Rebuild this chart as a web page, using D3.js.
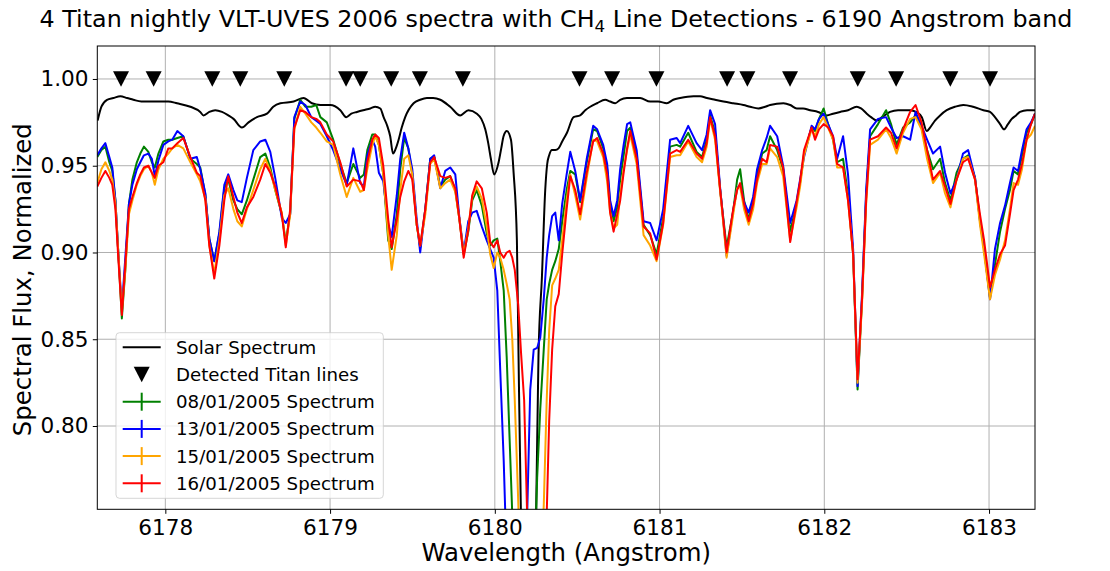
<!DOCTYPE html>
<html>
<head>
<meta charset="utf-8">
<script src="https://cdn.jsdelivr.net/npm/d3@7"></script>
<style>
  body { margin: 0; background: #ffffff; }
  text { font-family: "DejaVu Sans", sans-serif; fill: #000; }
</style>
</head>
<body>
<svg id="chart" width="1110" height="571"></svg>
<script>
// Wavelength grid (Angstrom) shared by the four Titan spectra
const titanWave = [
  6177.587,6177.612,6177.636,6177.660,6177.678,6177.697,6177.715,6177.736,6177.757,6177.779,
  6177.800,6177.827,6177.848,6177.870,6177.897,6177.918,6177.936,6177.958,6177.988,6178.018,
  6178.042,6178.073,6178.109,6178.152,6178.191,6178.212,6178.243,6178.267,6178.297,6178.328,
  6178.358,6178.382,6178.413,6178.437,6178.464,6178.495,6178.534,6178.576,6178.607,6178.637,
  6178.667,6178.707,6178.731,6178.758,6178.783,6178.819,6178.850,6178.886,6178.916,6178.941,
  6178.980,6179.019,6179.062,6179.101,6179.141,6179.183,6179.205,6179.226,6179.256,6179.274,
  6179.296,6179.323,6179.353,6179.374,6179.405,6179.426,6179.450,6179.475,6179.499,6179.526,
  6179.547,6179.578,6179.608,6179.632,6179.669,6179.699,6179.729,6179.760,6179.784,6179.811,
  6179.839,6179.863,6179.890,6179.921,6179.951,6179.972,6179.993,6180.015,6180.033,6180.054,
  6180.072,6180.090,6180.106,6180.121,6180.142,6180.160,6180.178,6180.197,6180.215,6180.236,
  6180.257,6180.276,6180.297,6180.315,6180.330,6180.348,6180.367,6180.388,6180.409,6180.436,
  6180.458,6180.488,6180.518,6180.558,6180.597,6180.621,6180.658,6180.682,6180.700,6180.721,
  6180.743,6180.761,6180.782,6180.803,6180.822,6180.861,6180.903,6180.943,6180.982,6181.022,
  6181.064,6181.104,6181.125,6181.174,6181.225,6181.258,6181.286,6181.307,6181.337,6181.368,
  6181.407,6181.447,6181.471,6181.489,6181.513,6181.541,6181.568,6181.592,6181.623,6181.650,
  6181.671,6181.714,6181.750,6181.793,6181.832,6181.853,6181.877,6181.923,6181.944,6181.968,
  6181.996,6182.023,6182.053,6182.078,6182.114,6182.144,6182.175,6182.202,6182.229,6182.254,
  6182.278,6182.326,6182.375,6182.405,6182.439,6182.478,6182.521,6182.554,6182.590,6182.624,
  6182.660,6182.703,6182.733,6182.766,6182.803,6182.842,6182.873,6182.915,6182.945,6182.970,
  6183.006,6183.036,6183.067,6183.097,6183.127,6183.149,6183.176,6183.200,6183.228,6183.255,
  6183.279
];

// Normalized flux, 08/01/2005
const flux0801 = [
  0.955,0.959,0.961,0.952,0.947,0.930,0.899,0.862,0.890,0.928,
  0.942,0.952,0.957,0.961,0.958,0.952,0.949,0.957,0.964,0.965,
  0.965,0.966,0.967,0.954,0.951,0.949,0.933,0.908,0.895,0.911,
  0.937,0.942,0.930,0.925,0.922,0.930,0.942,0.955,0.957,0.949,
  0.936,0.922,0.906,0.923,0.977,0.988,0.984,0.984,0.985,0.978,
  0.975,0.965,0.951,0.940,0.951,0.943,0.945,0.959,0.968,0.968,
  0.962,0.945,0.907,0.902,0.922,0.948,0.966,0.960,0.945,0.916,
  0.903,0.925,0.954,0.955,0.938,0.942,0.944,0.936,0.920,0.899,
  0.912,0.930,0.936,0.927,0.911,0.904,0.907,0.908,0.895,0.878,
  0.840,0.792,0.749,0.700,0.642,0.613,0.607,0.619,0.653,0.700,
  0.770,0.810,0.844,0.873,0.882,0.890,0.895,0.902,0.918,0.936,
  0.947,0.945,0.929,0.952,0.971,0.970,0.960,0.948,0.928,0.918,
  0.926,0.942,0.956,0.970,0.972,0.956,0.916,0.910,0.899,0.920,
  0.961,0.962,0.961,0.969,0.958,0.955,0.965,0.979,0.969,0.936,
  0.903,0.924,0.942,0.948,0.930,0.919,0.930,0.945,0.957,0.959,
  0.967,0.959,0.948,0.912,0.928,0.940,0.957,0.972,0.970,0.977,
  0.983,0.974,0.965,0.952,0.954,0.933,0.899,0.821,0.873,0.933,
  0.967,0.974,0.982,0.974,0.962,0.972,0.975,0.979,0.972,0.959,
  0.948,0.954,0.940,0.930,0.946,0.954,0.956,0.943,0.919,0.902,
  0.874,0.893,0.912,0.925,0.936,0.947,0.945,0.956,0.969,0.974,
  0.980
];

// Normalized flux, 13/01/2005
const flux1301 = [
  0.956,0.960,0.963,0.955,0.949,0.930,0.899,0.868,0.897,0.928,
  0.939,0.948,0.952,0.956,0.957,0.954,0.944,0.953,0.962,0.964,
  0.965,0.970,0.967,0.954,0.955,0.948,0.934,0.908,0.895,0.912,
  0.939,0.945,0.936,0.930,0.929,0.943,0.959,0.964,0.965,0.958,
  0.943,0.920,0.917,0.922,0.978,0.987,0.985,0.978,0.976,0.974,
  0.967,0.959,0.948,0.939,0.960,0.940,0.938,0.956,0.965,0.961,
  0.946,0.941,0.916,0.909,0.933,0.954,0.969,0.960,0.948,0.919,
  0.900,0.925,0.954,0.956,0.937,0.947,0.949,0.945,0.921,0.900,
  0.918,0.923,0.924,0.915,0.907,0.902,0.897,0.878,0.832,0.780,
  0.723,0.671,0.630,0.596,0.584,0.596,0.642,0.751,0.821,0.844,
  0.845,0.851,0.873,0.897,0.910,0.921,0.923,0.907,0.928,0.945,
  0.958,0.947,0.930,0.954,0.973,0.971,0.962,0.951,0.930,0.921,
  0.930,0.948,0.962,0.974,0.975,0.959,0.918,0.917,0.907,0.925,
  0.965,0.966,0.963,0.973,0.963,0.959,0.968,0.982,0.974,0.937,
  0.898,0.924,0.937,0.939,0.929,0.923,0.932,0.948,0.959,0.966,
  0.973,0.967,0.950,0.917,0.930,0.942,0.955,0.973,0.971,0.977,
  0.980,0.974,0.967,0.954,0.967,0.945,0.902,0.823,0.876,0.936,
  0.971,0.977,0.978,0.972,0.966,0.967,0.965,0.981,0.973,0.965,
  0.957,0.961,0.946,0.934,0.942,0.957,0.959,0.943,0.918,0.902,
  0.873,0.902,0.917,0.927,0.940,0.949,0.947,0.959,0.971,0.975,
  0.980
];

// Normalized flux, 15/01/2005
const flux1501 = [
  0.940,0.948,0.952,0.947,0.942,0.928,0.899,0.866,0.890,0.922,
  0.930,0.939,0.944,0.948,0.950,0.946,0.939,0.948,0.954,0.957,
  0.960,0.962,0.960,0.952,0.945,0.941,0.931,0.904,0.888,0.907,
  0.933,0.937,0.925,0.918,0.915,0.925,0.936,0.948,0.954,0.947,
  0.936,0.923,0.904,0.922,0.971,0.984,0.980,0.975,0.972,0.969,
  0.964,0.962,0.945,0.932,0.943,0.935,0.936,0.948,0.962,0.967,
  0.962,0.945,0.910,0.890,0.910,0.936,0.954,0.956,0.945,0.916,
  0.904,0.922,0.951,0.954,0.937,0.940,0.942,0.935,0.920,0.899,
  0.914,0.932,0.938,0.931,0.915,0.899,0.891,0.900,0.897,0.890,
  0.882,0.873,0.850,0.815,0.757,0.700,0.642,0.619,0.607,0.630,
  0.688,0.711,0.754,0.815,0.855,0.881,0.885,0.890,0.907,0.930,
  0.945,0.933,0.919,0.943,0.965,0.964,0.955,0.941,0.923,0.914,
  0.916,0.933,0.948,0.959,0.968,0.951,0.910,0.904,0.895,0.916,
  0.955,0.956,0.956,0.964,0.955,0.952,0.961,0.977,0.965,0.935,
  0.897,0.922,0.937,0.938,0.925,0.916,0.925,0.940,0.951,0.951,
  0.960,0.955,0.944,0.907,0.926,0.938,0.956,0.971,0.967,0.974,
  0.978,0.972,0.965,0.949,0.949,0.930,0.899,0.825,0.870,0.928,
  0.962,0.965,0.971,0.966,0.957,0.969,0.977,0.978,0.971,0.954,
  0.940,0.946,0.934,0.926,0.942,0.954,0.955,0.942,0.916,0.899,
  0.873,0.887,0.896,0.907,0.925,0.940,0.939,0.948,0.965,0.968,
  0.973
];

// Normalized flux, 16/01/2005
const flux1601 = [
  0.938,0.943,0.947,0.943,0.939,0.925,0.896,0.864,0.893,0.925,
  0.932,0.940,0.945,0.949,0.950,0.946,0.943,0.950,0.952,0.960,
  0.960,0.963,0.966,0.955,0.946,0.944,0.930,0.904,0.885,0.904,
  0.930,0.944,0.932,0.923,0.917,0.926,0.932,0.942,0.951,0.946,
  0.938,0.922,0.903,0.925,0.972,0.982,0.981,0.978,0.977,0.975,
  0.968,0.964,0.952,0.938,0.942,0.941,0.936,0.952,0.965,0.968,
  0.966,0.950,0.919,0.903,0.919,0.932,0.941,0.947,0.942,0.916,
  0.904,0.925,0.952,0.955,0.944,0.943,0.944,0.937,0.920,0.897,
  0.913,0.933,0.941,0.937,0.923,0.906,0.903,0.907,0.900,0.897,
  0.900,0.901,0.897,0.890,0.870,0.841,0.815,0.746,0.671,0.619,
  0.596,0.607,0.700,0.749,0.803,0.844,0.869,0.876,0.899,0.925,
  0.944,0.936,0.922,0.946,0.964,0.966,0.957,0.945,0.923,0.912,
  0.922,0.930,0.946,0.960,0.970,0.954,0.915,0.911,0.896,0.917,
  0.957,0.959,0.958,0.965,0.957,0.954,0.963,0.978,0.967,0.936,
  0.900,0.925,0.936,0.940,0.928,0.918,0.928,0.942,0.954,0.952,
  0.962,0.961,0.949,0.906,0.929,0.941,0.959,0.972,0.965,0.971,
  0.974,0.972,0.967,0.951,0.949,0.930,0.899,0.827,0.873,0.930,
  0.965,0.967,0.972,0.969,0.960,0.971,0.981,0.985,0.975,0.959,
  0.942,0.947,0.938,0.928,0.942,0.952,0.954,0.942,0.922,0.907,
  0.880,0.890,0.899,0.904,0.922,0.936,0.942,0.951,0.965,0.974,
  0.980
];

// Solar reference spectrum
const solarWave = [
  6177.589,6177.612,6177.646,6177.684,6177.727,6177.768,6177.806,6177.854,6177.909,6177.980,
  6178.018,6178.071,6178.152,6178.212,6178.232,6178.267,6178.303,6178.344,6178.382,6178.414,
  6178.465,6178.505,6178.556,6178.617,6178.655,6178.698,6178.779,6178.839,6178.890,6178.941,
  6179.001,6179.062,6179.098,6179.129,6179.163,6179.201,6179.244,6179.274,6179.305,6179.325,
  6179.347,6179.365,6179.382,6179.399,6179.416,6179.435,6179.456,6179.507,6179.547,6179.588,
  6179.626,6179.669,6179.729,6179.790,6179.840,6179.891,6179.918,6179.942,6179.960,6179.976,
  6179.996,6180.023,6180.039,6180.053,6180.073,6180.098,6180.114,6180.134,6180.144,6180.158,
  6180.178,6180.205,6180.227,6180.251,6180.265,6180.286,6180.306,6180.318,6180.330,6180.347,
  6180.367,6180.387,6180.409,6180.438,6180.478,6180.518,6180.549,6180.579,6180.620,6180.670,
  6180.700,6180.731,6180.761,6180.802,6180.882,6180.943,6180.992,6181.044,6181.083,6181.125,
  6181.206,6181.246,6181.287,6181.337,6181.388,6181.447,6181.509,6181.550,6181.600,6181.641,
  6181.671,6181.752,6181.793,6181.833,6181.871,6181.914,6181.962,6182.015,6182.053,6182.096,
  6182.144,6182.197,6182.223,6182.258,6182.284,6182.319,6182.351,6182.399,6182.448,6182.521,
  6182.557,6182.592,6182.622,6182.642,6182.672,6182.703,6182.743,6182.794,6182.844,6182.903,
  6182.966,6183.006,6183.036,6183.067,6183.091,6183.115,6183.138,6183.164,6183.188,6183.231,
  6183.279
];
const solarFlux = [
  0.976,0.984,0.988,0.989,0.990,0.989,0.988,0.987,0.987,0.987,
  0.987,0.986,0.984,0.981,0.979,0.981,0.982,0.981,0.979,0.977,
  0.972,0.975,0.978,0.980,0.984,0.986,0.987,0.989,0.986,0.985,
  0.985,0.982,0.978,0.980,0.981,0.982,0.983,0.984,0.983,0.978,
  0.973,0.967,0.957,0.960,0.965,0.972,0.978,0.986,0.988,0.989,
  0.989,0.988,0.984,0.979,0.982,0.980,0.977,0.971,0.963,0.954,
  0.945,0.952,0.960,0.967,0.970,0.965,0.946,0.907,0.840,0.752,
  0.688,0.648,0.677,0.752,0.840,0.886,0.936,0.951,0.956,0.959,
  0.959,0.960,0.964,0.969,0.978,0.979,0.982,0.984,0.986,0.988,
  0.987,0.986,0.988,0.989,0.989,0.987,0.987,0.986,0.988,0.989,
  0.990,0.990,0.989,0.988,0.987,0.986,0.985,0.984,0.983,0.984,
  0.985,0.986,0.985,0.983,0.983,0.982,0.981,0.979,0.980,0.981,
  0.982,0.984,0.983,0.980,0.978,0.976,0.978,0.981,0.982,0.982,
  0.981,0.978,0.970,0.972,0.976,0.979,0.982,0.984,0.985,0.984,
  0.982,0.981,0.978,0.974,0.971,0.974,0.977,0.979,0.981,0.982,
  0.982
];

// Wavelengths of the detected Titan CH4 lines (marked at flux 1.00)
const lineWave = [
  6177.731,6177.929,6178.285,6178.455,6178.722,6179.097,6179.183,6179.371,6179.545,6179.806,
  6180.514,6180.712,6180.981,6181.410,6181.533,6181.792,6182.203,6182.436,6182.765,6183.006
];
const lineLevel = 1.0;

const xTicks = [6178, 6179, 6180, 6181, 6182, 6183];
const yTicks = [0.80, 0.85, 0.90, 0.95, 1.00];

const spectra = [
  { label: "08/01/2005 Spectrum", color: "#008000", values: flux0801 },
  { label: "13/01/2005 Spectrum", color: "#0000ff", values: flux1301 },
  { label: "15/01/2005 Spectrum", color: "#ffa500", values: flux1501 },
  { label: "16/01/2005 Spectrum", color: "#ff0000", values: flux1601 }
];

// ---- layout ----
const m = { left: 97.3, right: 1035, top: 46, bottom: 509.3 };
const svg = d3.select("#chart");

const x = d3.scaleLinear().domain([6177.587, 6183.279]).range([m.left, m.right]);
const y = d3.scaleLinear().domain([0.752, 1.019]).range([m.bottom, m.top]);

svg.append("rect").attr("width", 1110).attr("height", 571).attr("fill", "#fff");

svg.append("defs").append("clipPath").attr("id", "plotClip")
  .append("rect")
  .attr("x", m.left).attr("y", m.top)
  .attr("width", m.right - m.left).attr("height", m.bottom - m.top);

// grid
const grid = svg.append("g").attr("stroke", "#b0b0b0").attr("stroke-width", 1);
grid.selectAll(".gx").data(xTicks).join("line")
  .attr("x1", d => x(d)).attr("x2", d => x(d))
  .attr("y1", m.top).attr("y2", m.bottom);
grid.selectAll(".gy").data(yTicks).join("line")
  .attr("x1", m.left).attr("x2", m.right)
  .attr("y1", d => y(d)).attr("y2", d => y(d));

// curves
const plot = svg.append("g").attr("clip-path", "url(#plotClip)");

const solarLine = d3.line()
  .x((d, i) => x(solarWave[i]))
  .y(d => y(d))
  .curve(d3.curveMonotoneX);
plot.append("path")
  .attr("d", solarLine(solarFlux))
  .attr("fill", "none").attr("stroke", "#000").attr("stroke-width", 2)
  .attr("stroke-linejoin", "round");

const titanLine = d3.line()
  .x((d, i) => x(titanWave[i]))
  .y(d => y(d));
spectra.forEach(s => {
  plot.append("path")
    .attr("d", titanLine(s.values))
    .attr("fill", "none").attr("stroke", s.color).attr("stroke-width", 2)
    .attr("stroke-linejoin", "round");
});

// detected line markers
const tri = (cx, cy, w, h) =>
  `M${cx - w / 2},${cy - h / 2}L${cx + w / 2},${cy - h / 2}L${cx},${cy + h / 2}Z`;
svg.append("g").selectAll("path").data(lineWave).join("path")
  .attr("d", d => tri(x(d), y(lineLevel), 16, 15.5))
  .attr("fill", "#000");

// axes
const xAxis = d3.axisBottom(x).tickValues(xTicks).tickFormat(d3.format("d"))
  .tickSize(4.5).tickPadding(5.9);
const gx = svg.append("g").attr("transform", `translate(0,${m.bottom})`).call(xAxis);
const yAxis = d3.axisLeft(y).tickValues(yTicks).tickFormat(d3.format(".2f"))
  .tickSize(4.5).tickPadding(4.3);
const gy = svg.append("g").attr("transform", `translate(${m.left},0)`).call(yAxis);
[gx, gy].forEach(g => {
  g.select(".domain").remove();
  g.selectAll(".tick line").attr("stroke", "#000").attr("stroke-width", 1);
  g.selectAll(".tick text").attr("font-size", 21.6)
    .attr("font-family", "DejaVu Sans, sans-serif").attr("fill", "#000");
});

// frame
svg.append("rect")
  .attr("x", m.left).attr("y", m.top)
  .attr("width", m.right - m.left).attr("height", m.bottom - m.top)
  .attr("fill", "none").attr("stroke", "#000").attr("stroke-width", 1);

// axis labels
svg.append("text")
  .attr("x", (m.left + m.right) / 2).attr("y", 561)
  .attr("text-anchor", "middle").attr("font-size", 24.4)
  .text("Wavelength (Angstrom)");
svg.append("text")
  .attr("transform", `translate(31,${(m.top + m.bottom) / 2 + 2}) rotate(-90)`)
  .attr("text-anchor", "middle").attr("font-size", 24.4)
  .text("Spectral Flux, Normalized");

// title
const title = svg.append("text")
  .attr("x", 556).attr("y", 27)
  .attr("text-anchor", "middle").attr("font-size", 23.8);
title.append("tspan").text("4 Titan nightly VLT-UVES 2006 spectra with CH");
title.append("tspan").attr("font-size", 16.7).attr("dy", 5).text("4");
title.append("tspan").attr("dy", -5).text(" Line Detections - 6190 Angstrom band");

// legend
const lg = svg.append("g");
lg.append("rect")
  .attr("x", 116).attr("y", 332.7).attr("width", 267.3).attr("height", 165.6)
  .attr("rx", 3.5)
  .attr("fill", "#fff").attr("fill-opacity", 0.8)
  .attr("stroke", "#cccccc").attr("stroke-opacity", 0.8).attr("stroke-width", 1);

const rowY = i => 347.3 + i * 27.2;
const hx0 = 122.7, hx1 = 160.7, hxc = (hx0 + hx1) / 2, tx = 176;

const legendItems = [
  { label: "Solar Spectrum", kind: "line", color: "#000" },
  { label: "Detected Titan lines", kind: "marker", color: "#000" }
].concat(spectra.map(s => ({ label: s.label, kind: "errorbar", color: s.color })));

legendItems.forEach((it, i) => {
  const cy = rowY(i);
  if (it.kind === "line" || it.kind === "errorbar") {
    lg.append("line").attr("x1", hx0).attr("x2", hx1).attr("y1", cy).attr("y2", cy)
      .attr("stroke", it.color).attr("stroke-width", 2);
  }
  if (it.kind === "errorbar") {
    lg.append("line").attr("x1", hxc).attr("x2", hxc).attr("y1", cy - 9).attr("y2", cy + 9)
      .attr("stroke", it.color).attr("stroke-width", 2);
  }
  if (it.kind === "marker") {
    lg.append("path").attr("d", tri(hxc, cy, 16, 15.5)).attr("fill", it.color);
  }
  lg.append("text").attr("x", tx).attr("y", cy).attr("dy", "0.36em")
    .attr("font-size", 18.2).text(it.label);
});
</script>
</body>
</html>
